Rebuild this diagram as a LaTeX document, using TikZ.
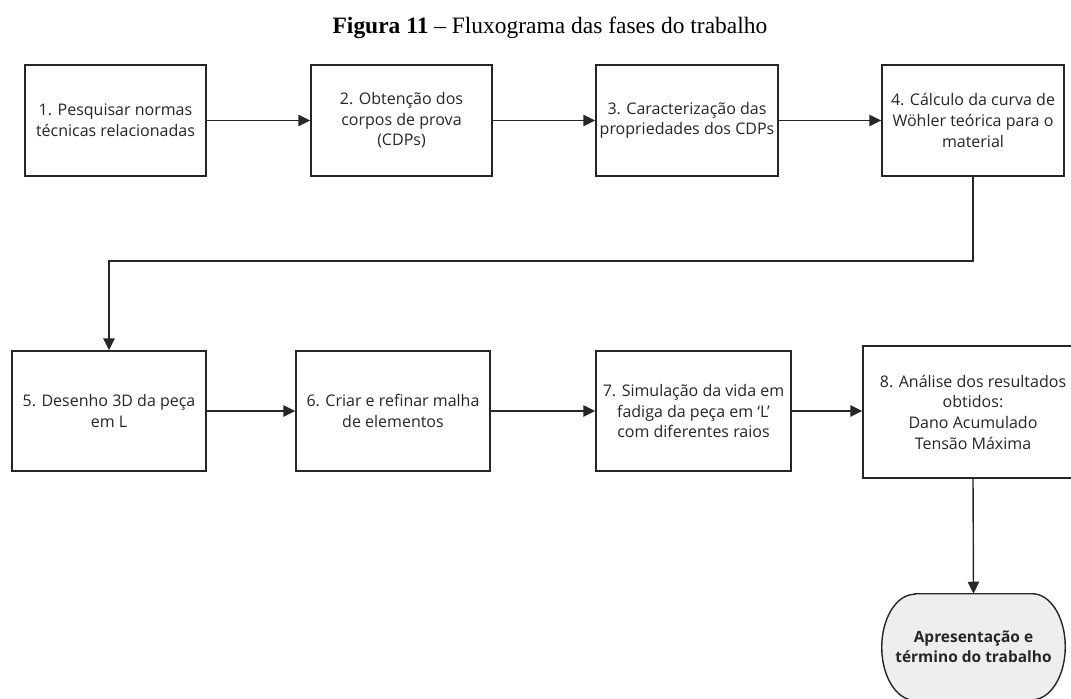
\documentclass[tikz,border=0pt]{standalone}
\usepackage{fontspec}
\setmainfont{Liberation Serif}
\newfontfamily\boxfont{Open Sans}
\usetikzlibrary{arrows.meta,backgrounds}
\newlength\pxu
\setlength\pxu{0.75pt}
\definecolor{linegray}{HTML}{262626}
\definecolor{termfill}{HTML}{EEEEEE}
\tikzset{
  stepbox/.style={draw=linegray, line width=1.05pt, fill=white, align=center,
    inner sep=2pt, font=\boxfont\fontsize{12}{15.5}\selectfont, text=black!85},
  endtext/.style={align=center, inner sep=0pt, text=black!85,
    font=\boxfont\bfseries\fontsize{11.6}{15.2}\selectfont},
  endshape/.style={draw=linegray, line width=1.05pt, fill=termfill},
  flow/.style={draw=linegray, line width=1.05pt,
    -{Triangle[length=9pt, width=8.5pt]}},
}
\begin{document}
\begin{tikzpicture}[x=0.75pt, y=-0.75pt]
\useasboundingbox (0,0) rectangle (1071,699);

% caption
\node[anchor=base, font=\fontsize{17.6}{21}\selectfont] (title) at (550,34)
  {\textbf{Figura 11} -- Fluxograma das fases do trabalho};

% first row
\node[stepbox, minimum width=181\pxu, minimum height=111\pxu] (b1) at (115.5,120.5)
  {1. Pesquisar normas\\técnicas relacionadas};
\node[stepbox, minimum width=181\pxu, minimum height=111\pxu] (b2) at (401.5,120.5)
  {2. Obtenção dos\\corpos de prova\\(CDPs)};
\node[stepbox, minimum width=182\pxu, minimum height=111\pxu] (b3) at (687,120.5)
  {3. Caracterização das\\propriedades dos CDPs};
\node[stepbox, minimum width=182\pxu, minimum height=111\pxu] (b4) at (973,120.5)
  {4. Cálculo da curva de\\Wöhler teórica para o\\material};

% second row
\node[stepbox, minimum width=194\pxu, minimum height=120\pxu] (b5) at (109,411)
  {5. Desenho 3D da peça\\em L};
\node[stepbox, minimum width=194\pxu, minimum height=120\pxu] (b6) at (393,411)
  {6. Criar e refinar malha\\de elementos};
\node[stepbox, minimum width=195\pxu, minimum height=120\pxu] (b7) at (693.5,411)
  {7. Simulação da vida em\\fadiga da peça em ‘L’\\com diferentes raios};
\node[stepbox, minimum width=220\pxu, minimum height=132\pxu] (b8) at (973,412)
  {8. Análise dos resultados\\obtidos:\\Dano Acumulado\\Tensão Máxima};

% terminator: straight top and bottom, half-elliptical ends
\node[endtext, minimum width=183\pxu, minimum height=106\pxu] (end) at (973.5,647)
  {Apresentação e\\término do trabalho};
\begin{scope}[on background layer]
  \path[endshape]
    ([xshift=24.75pt]end.north west) -- ([xshift=-24.75pt]end.north east)
    arc[start angle=90, end angle=-90, x radius=24.75pt, y radius=39.75pt]
    -- ([xshift=24.75pt]end.south west)
    arc[start angle=270, end angle=90, x radius=24.75pt, y radius=39.75pt]
    -- cycle;
\end{scope}

% connectors
\coordinate (turn) at (540,261);
\draw[flow] (b1) -- (b2);
\draw[flow] (b2) -- (b3);
\draw[flow] (b3) -- (b4);
\draw[flow] (b4.south) |- (turn) -| (b5.north);
\draw[flow] (b5) -- (b6);
\draw[flow] (b6) -- (b7);
\draw[flow] (b7) -- (b7 -| b8.west);
\draw[flow] (b8.south) -- (end.north);
\end{tikzpicture}
\end{document}
